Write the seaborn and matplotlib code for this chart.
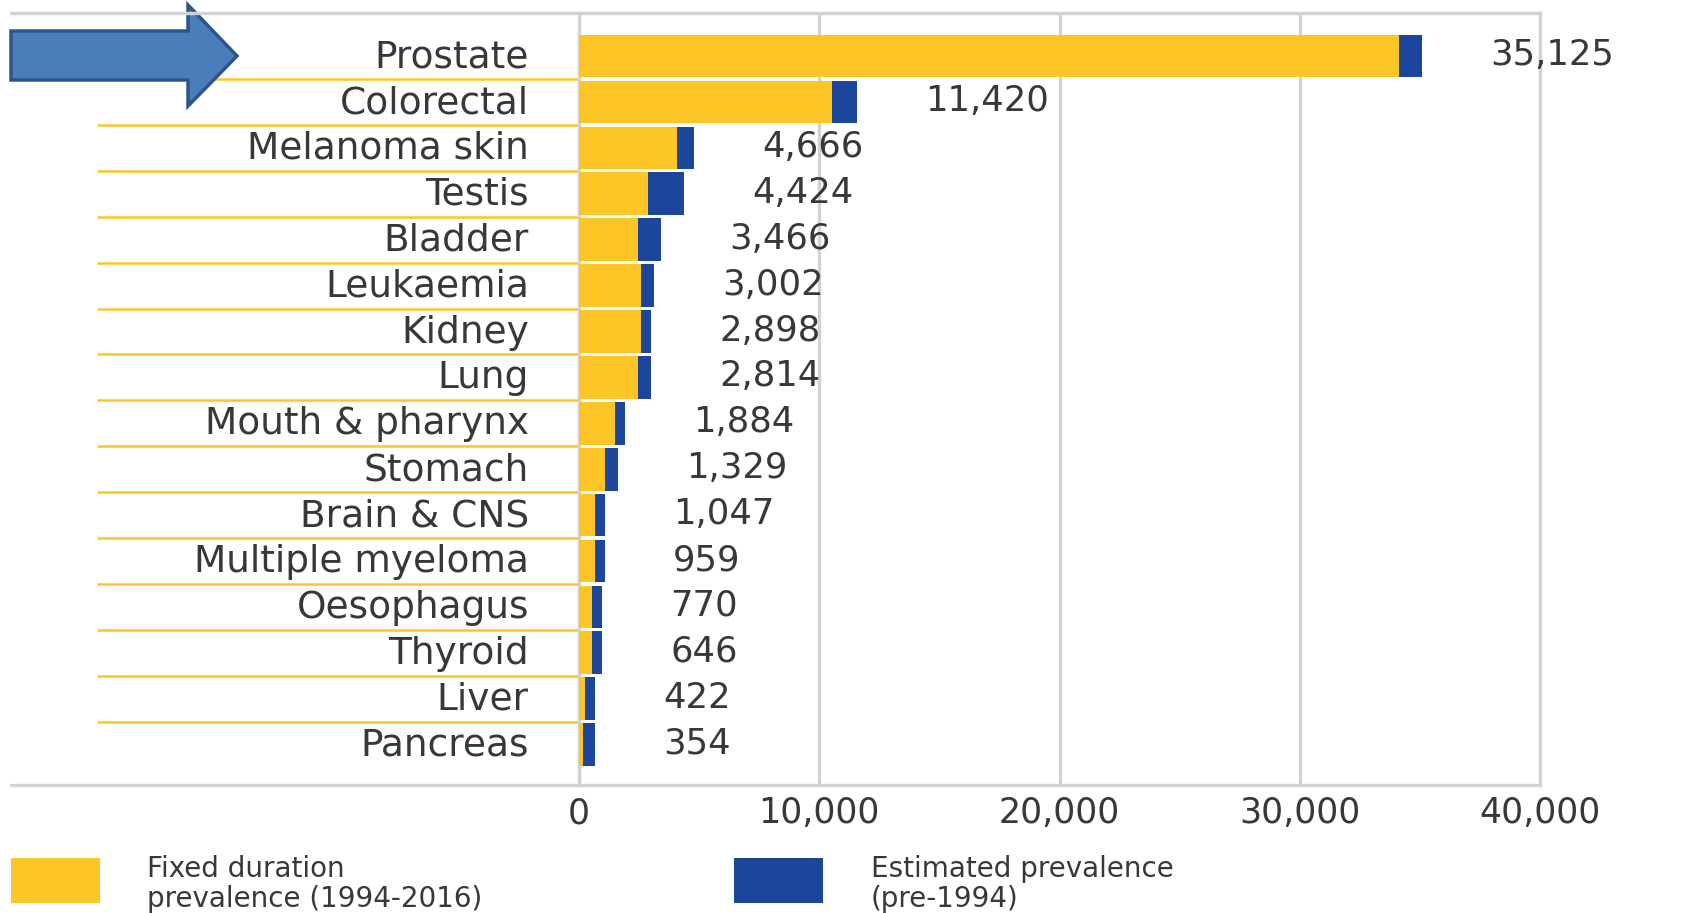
import matplotlib
matplotlib.use("Agg")
import matplotlib.pyplot as plt
import matplotlib.transforms as mtransforms
import seaborn as sns
import pandas as pd
from matplotlib.patches import Polygon, Rectangle
from matplotlib.lines import Line2D
from matplotlib.ticker import FuncFormatter

categories = ["Prostate", "Colorectal", "Melanoma skin", "Testis", "Bladder",
              "Leukaemia", "Kidney", "Lung", "Mouth & pharynx", "Stomach",
              "Brain & CNS", "Multiple myeloma", "Oesophagus", "Thyroid",
              "Liver", "Pancreas"]
fixed_duration = [34130, 10510, 4090, 2880, 2465, 2590, 2590, 2465, 1500, 1075,
                  675, 675, 535, 535, 260, 150]
estimated_pre1994 = [965, 1070, 690, 1485, 950, 550, 410, 535, 415, 565,
                     415, 415, 430, 430, 400, 525]
total_labels = [35125, 11420, 4666, 4424, 3466, 3002, 2898, 2814, 1884, 1329,
                1047, 959, 770, 646, 422, 354]
x_ticks = [0, 10000, 20000, 30000, 40000]
legend_labels = ["Fixed duration\nprevalence (1994-2016)",
                 "Estimated prevalence\n(pre-1994)"]

YELLOW = "#FDC526"
BLUE = "#1B469C"
GRID = "#D2D2D2"
TXT = "#383838"

W, H = 1686, 913
sns.set_theme(style="white")
plt.rcParams["font.family"] = ["DejaVu Sans"]

fig = plt.figure(figsize=(W / 100, H / 100), dpi=100)
fig.patch.set_facecolor("white")
ax_l, ax_r, ax_t, ax_b = 579, 1540, 13, 785
ax = fig.add_axes([ax_l / W, 1 - ax_b / H, (ax_r - ax_l) / W, (ax_b - ax_t) / H])

df = pd.DataFrame({"cat": categories, "fixed": fixed_duration,
                   "est": estimated_pre1994})
df["total"] = df["fixed"] + df["est"]

sns.barplot(data=df, x="total", y="cat", color=BLUE, orient="h", width=0.93,
            linewidth=0, saturation=1, ax=ax, zorder=3)
sns.barplot(data=df, x="fixed", y="cat", color=YELLOW, orient="h", width=0.93,
            linewidth=0, saturation=1, ax=ax, zorder=4)

ax.set_xlim(0, 40000)
ax.set_ylim(15.88, -0.94)
ax.set_xlabel("")
ax.set_ylabel("")
ax.set_xticks(x_ticks)
ax.xaxis.set_major_formatter(FuncFormatter(lambda v, p: f"{v:,.0f}"))
ax.grid(axis="x", color=GRID, lw=2.4, zorder=0)
ax.grid(axis="y", visible=False)
ax.tick_params(axis="x", length=0, pad=8, labelsize=25, labelcolor=TXT)
ax.tick_params(axis="y", length=0, pad=36, labelsize=27, labelcolor=TXT)

# nudge category labels slightly upward
shift = mtransforms.ScaledTranslation(0, 3 / 100, fig.dpi_scale_trans)
for lbl in ax.get_yticklabels():
    lbl.set_transform(lbl.get_transform() + shift)

for s in ["top", "bottom"]:
    ax.spines[s].set_visible(False)
for s in ["left", "right"]:
    ax.spines[s].set_color(GRID)
    ax.spines[s].set_linewidth(2.4)

# full-width top and bottom frame lines
for yy in (ax_t, ax_b):
    fig.add_artist(Line2D([11 / W, ax_r / W], [1 - yy / H, 1 - yy / H],
                          color=GRID, lw=2.4, transform=fig.transFigure))

# yellow separators between rows
seps = [i + 0.5 for i in range(len(categories) - 1)]
ax.hlines(seps, xmin=(97 - ax_l) / (ax_r - ax_l), xmax=0,
          transform=ax.get_yaxis_transform(), clip_on=False,
          color=YELLOW, lw=1.8, zorder=2)

# value labels
for i, (f, e, lab) in enumerate(zip(fixed_duration, estimated_pre1994, total_labels)):
    ax.annotate(f"{lab:,}", xy=(f + e, i), xytext=(68, 1),
                textcoords="offset pixels", ha="left", va="center",
                fontsize=25.5, color=TXT, annotation_clip=False)

# arrow
pts = [(11, 31), (188, 31), (188, 5), (237, 56), (188, 106), (188, 80), (11, 80)]
arrow = Polygon([(x / W, 1 - y / H) for x, y in pts], closed=True,
                transform=fig.transFigure, facecolor="#4A7EBB",
                edgecolor="#2F5488", lw=2.5)
fig.add_artist(arrow)

# legend
leg_items = [(11, YELLOW, 147), (734, BLUE, 871)]
for (x0, col, tx), lab in zip(leg_items, legend_labels):
    fig.add_artist(Rectangle((x0 / W, 1 - 903 / H), 89 / W, 45 / H,
                             transform=fig.transFigure, facecolor=col,
                             edgecolor="none"))
    fig.text(tx / W, 1 - 884 / H, lab, ha="left", va="center", fontsize=20,
             color=TXT, linespacing=1.1)

fig.savefig("out.png", dpi=100, facecolor="white")
